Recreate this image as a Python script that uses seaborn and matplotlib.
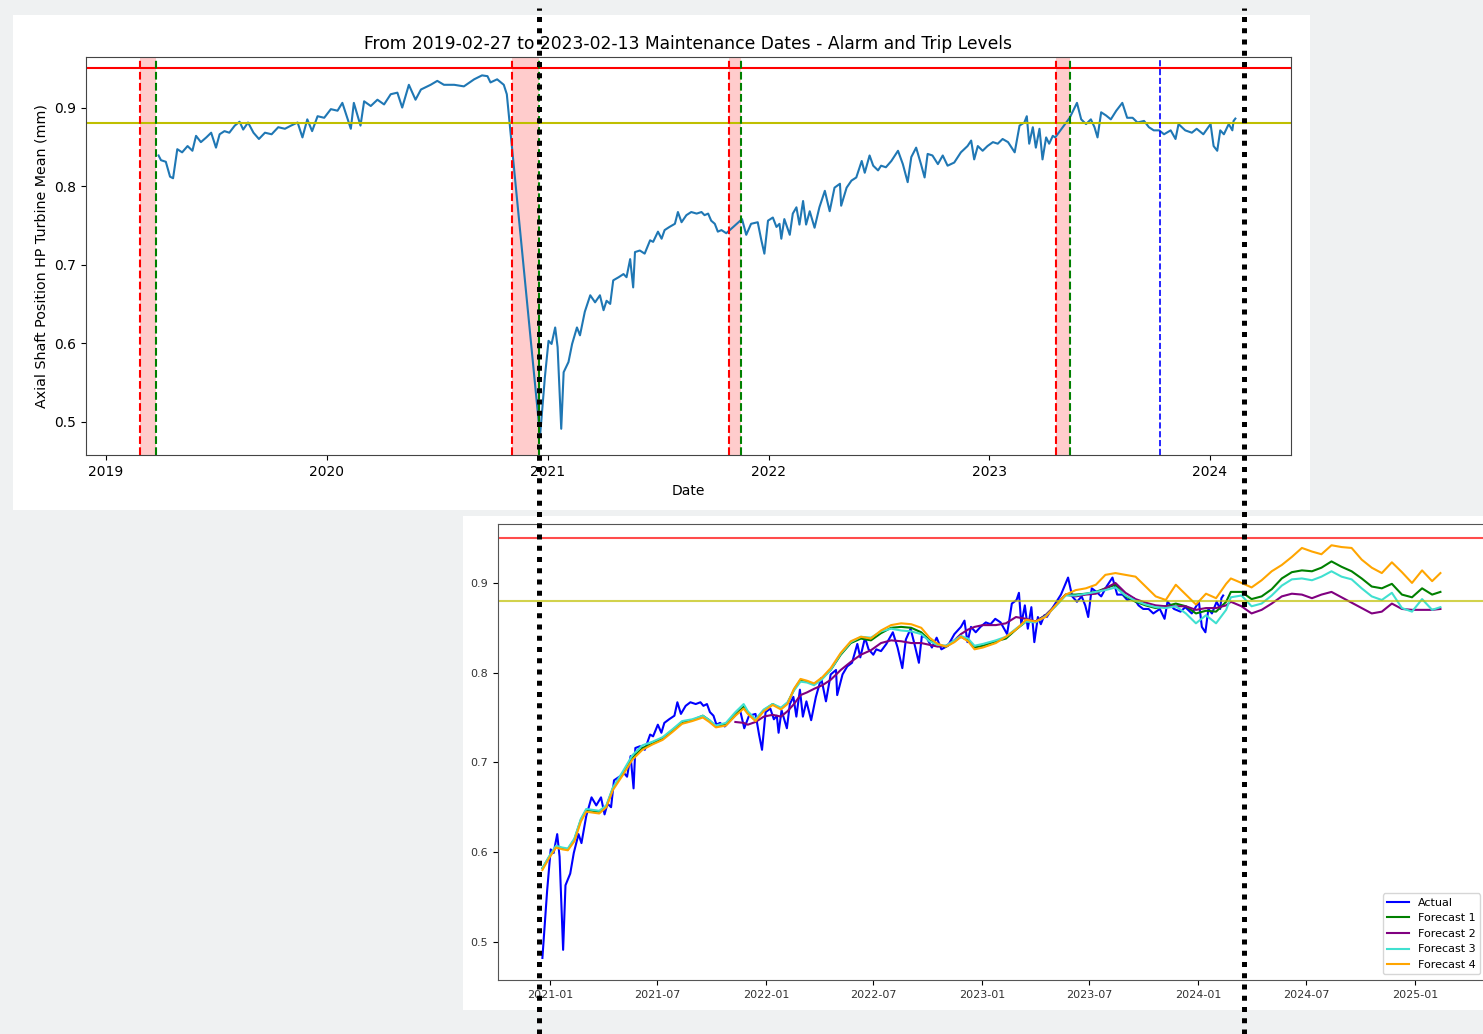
import numpy as np
import pandas as pd
import matplotlib
matplotlib.use("Agg")
import matplotlib.pyplot as plt
import matplotlib.dates as mdates
from matplotlib.lines import Line2D
from matplotlib.patches import Rectangle
import seaborn as sns

# ---------------------------------------------------------------- data
actual_dates = [
    "2019-03-29", "2019-04-02", "2019-04-10", "2019-04-17", "2019-04-22", "2019-04-29",
    "2019-05-07", "2019-05-16", "2019-05-24", "2019-05-30", "2019-06-07", "2019-06-16",
    "2019-06-24", "2019-07-02", "2019-07-08", "2019-07-16", "2019-07-24", "2019-08-02",
    "2019-08-10", "2019-08-16", "2019-08-24", "2019-09-02", "2019-09-11", "2019-09-21",
    "2019-10-02", "2019-10-13", "2019-10-24", "2019-11-03", "2019-11-14", "2019-11-22",
    "2019-11-30", "2019-12-08", "2019-12-17", "2019-12-28", "2020-01-08", "2020-01-19",
    "2020-01-27", "2020-02-10", "2020-02-15", "2020-02-26", "2020-03-03", "2020-03-14",
    "2020-03-25", "2020-04-05", "2020-04-16", "2020-04-27", "2020-05-05", "2020-05-16",
    "2020-05-27", "2020-06-05", "2020-06-21", "2020-07-02", "2020-07-13", "2020-07-30",
    "2020-08-15", "2020-09-01", "2020-09-14", "2020-09-23", "2020-09-28", "2020-10-09",
    "2020-10-20", "2020-10-25",
    "2020-12-19", "2020-12-27", "2021-01-02", "2021-01-07", "2021-01-13", "2021-01-17",
    "2021-01-23", "2021-01-27", "2021-02-04", "2021-02-10", "2021-02-18", "2021-02-23",
    "2021-03-03", "2021-03-12", "2021-03-20", "2021-03-28", "2021-04-03", "2021-04-08",
    "2021-04-14", "2021-04-19", "2021-04-28", "2021-05-06", "2021-05-11", "2021-05-17",
    "2021-05-22", "2021-05-25", "2021-06-02", "2021-06-10", "2021-06-19", "2021-06-24",
    "2021-07-02", "2021-07-08", "2021-07-13", "2021-07-21", "2021-07-30", "2021-08-04",
    "2021-08-10", "2021-08-18", "2021-08-26", "2021-09-04", "2021-09-12", "2021-09-17",
    "2021-09-23", "2021-09-28", "2021-10-04", "2021-10-09", "2021-10-15", "2021-10-23",
    "2021-11-18", "2021-11-25", "2021-12-03", "2021-12-14", "2021-12-20", "2021-12-25",
    "2021-12-31", "2022-01-08", "2022-01-14", "2022-01-19", "2022-01-22", "2022-01-27",
    "2022-02-05", "2022-02-10", "2022-02-16", "2022-02-21", "2022-02-27", "2022-03-04",
    "2022-03-10", "2022-03-18", "2022-03-26", "2022-04-04", "2022-04-12", "2022-04-20",
    "2022-04-29", "2022-05-01", "2022-05-10", "2022-05-18", "2022-05-26", "2022-06-04",
    "2022-06-09", "2022-06-17", "2022-06-23", "2022-07-01", "2022-07-06", "2022-07-14",
    "2022-07-23", "2022-08-03", "2022-08-11", "2022-08-19", "2022-08-25", "2022-09-02",
    "2022-09-10", "2022-09-16", "2022-09-21", "2022-09-29", "2022-10-08", "2022-10-16",
    "2022-10-24", "2022-11-04", "2022-11-15", "2022-11-26", "2022-12-02", "2022-12-07",
    "2022-12-13", "2022-12-21", "2022-12-29", "2023-01-07", "2023-01-15", "2023-01-23",
    "2023-02-01", "2023-02-12", "2023-02-20", "2023-02-28", "2023-03-04", "2023-03-08",
    "2023-03-14", "2023-03-19", "2023-03-25", "2023-03-30", "2023-04-05", "2023-04-10",
    "2023-04-16", "2023-04-20",
    "2023-05-14", "2023-05-26", "2023-06-02", "2023-06-10", "2023-06-18", "2023-06-24",
    "2023-06-29", "2023-07-05", "2023-07-13", "2023-07-21", "2023-07-30", "2023-08-09",
    "2023-08-17", "2023-08-26", "2023-09-03", "2023-09-14", "2023-09-22", "2023-09-30",
    "2023-10-09", "2023-10-17", "2023-10-28", "2023-11-05", "2023-11-10", "2023-11-21",
    "2023-12-02", "2023-12-10", "2023-12-21", "2024-01-02", "2024-01-07", "2024-01-13",
    "2024-01-18", "2024-01-24", "2024-02-01", "2024-02-07", "2024-02-09", "2024-02-12",
]
actual_values = [
    0.839, 0.833, 0.831, 0.812, 0.810, 0.847,
    0.843, 0.851, 0.845, 0.864, 0.856, 0.862,
    0.868, 0.849, 0.866, 0.870, 0.868, 0.877,
    0.882, 0.872, 0.881, 0.868, 0.860, 0.868,
    0.866, 0.875, 0.873, 0.877, 0.881, 0.862,
    0.885, 0.870, 0.889, 0.887, 0.898, 0.896,
    0.906, 0.873, 0.906, 0.877, 0.908, 0.902,
    0.910, 0.904, 0.917, 0.919, 0.900, 0.929,
    0.910, 0.923, 0.929, 0.934, 0.929, 0.929,
    0.927, 0.936, 0.941, 0.940, 0.932, 0.936,
    0.929, 0.917,
    0.482, 0.557, 0.603, 0.599, 0.620, 0.595,
    0.491, 0.563, 0.576, 0.599, 0.620, 0.610,
    0.640, 0.661, 0.652, 0.661, 0.642, 0.654,
    0.650, 0.680, 0.684, 0.688, 0.684, 0.707,
    0.671, 0.716, 0.718, 0.714, 0.731, 0.729,
    0.742, 0.733, 0.744, 0.748, 0.752, 0.767,
    0.754, 0.763, 0.767, 0.765, 0.767, 0.763,
    0.765, 0.756, 0.752, 0.742, 0.744, 0.740,
    0.758, 0.738, 0.752, 0.754, 0.731, 0.714,
    0.756, 0.760, 0.748, 0.752, 0.733, 0.758,
    0.738, 0.765, 0.773, 0.751, 0.781, 0.751,
    0.768, 0.747, 0.773, 0.794, 0.768, 0.798,
    0.803, 0.775, 0.798, 0.807, 0.811, 0.832,
    0.817, 0.839, 0.826, 0.820, 0.826, 0.824,
    0.832, 0.845, 0.828, 0.805, 0.837, 0.849,
    0.828, 0.811, 0.841, 0.839, 0.828, 0.839,
    0.826, 0.830, 0.843, 0.851, 0.858, 0.834,
    0.851, 0.845, 0.851, 0.856, 0.854, 0.860,
    0.856, 0.843, 0.877, 0.881, 0.889, 0.854,
    0.875, 0.849, 0.873, 0.834, 0.862, 0.854,
    0.864, 0.862,
    0.887, 0.906, 0.885, 0.879, 0.885, 0.875,
    0.862, 0.894, 0.890, 0.885, 0.896, 0.906,
    0.887, 0.887, 0.881, 0.883, 0.875, 0.871,
    0.871, 0.866, 0.871, 0.860, 0.879, 0.871,
    0.868, 0.873, 0.866, 0.879, 0.851, 0.845,
    0.871, 0.866, 0.879, 0.871, 0.883, 0.886,
]

forecast_dates = [
    "2020-12-19", "2020-12-31", "2021-01-11", "2021-01-22", "2021-01-31", "2021-02-11",
    "2021-02-22", "2021-03-03", "2021-03-14", "2021-03-25", "2021-04-06", "2021-04-17",
    "2021-05-04", "2021-05-20", "2021-06-06", "2021-06-23", "2021-07-10", "2021-07-27",
    "2021-08-12", "2021-08-29", "2021-09-16", "2021-09-27", "2021-10-08", "2021-10-25",
    "2021-11-10", "2021-11-24", "2021-12-01", "2021-12-14", "2021-12-28", "2022-01-12",
    "2022-01-26", "2022-02-06", "2022-02-17", "2022-02-28", "2022-03-11", "2022-03-23",
    "2022-04-06", "2022-04-20", "2022-05-07", "2022-05-24", "2022-06-10", "2022-06-27",
    "2022-07-14", "2022-07-31", "2022-08-17", "2022-09-03", "2022-09-20", "2022-10-04",
    "2022-10-18", "2022-11-01", "2022-11-15", "2022-11-26", "2022-12-08", "2022-12-19",
    "2023-01-02", "2023-01-24", "2023-02-10", "2023-02-27", "2023-03-16", "2023-04-01",
    "2023-04-18", "2023-05-05", "2023-05-22", "2023-06-08", "2023-06-25", "2023-07-12",
    "2023-07-28", "2023-08-14", "2023-08-31", "2023-09-17", "2023-10-04", "2023-10-21",
    "2023-11-07", "2023-11-24", "2023-12-11", "2023-12-28", "2024-01-14", "2024-01-31",
    "2024-02-17", "2024-02-25", "2024-03-14", "2024-03-31", "2024-04-17", "2024-05-04",
    "2024-05-21", "2024-06-07", "2024-06-24", "2024-07-11", "2024-07-27", "2024-08-13",
    "2024-08-30", "2024-09-16", "2024-10-03", "2024-10-20", "2024-11-06", "2024-11-23",
    "2024-12-10", "2024-12-27", "2025-01-13", "2025-01-30", "2025-02-13",
]
forecast_1 = [
    0.582, 0.595, 0.606, 0.604, 0.603, 0.614, 0.636, 0.647, 0.646, 0.645, 0.651, 0.671,
    0.688, 0.705, 0.716, 0.721, 0.727, 0.736, 0.745, 0.747, 0.752, 0.747, 0.740, 0.742,
    0.753, 0.762, 0.755, 0.747, 0.758, 0.765, 0.760, 0.766, 0.781, 0.792, 0.790, 0.787,
    0.794, 0.803, 0.820, 0.833, 0.838, 0.836, 0.844, 0.850, 0.851, 0.850, 0.845, 0.836,
    0.831, 0.829, 0.835, 0.840, 0.836, 0.828, 0.830, 0.835, 0.838, 0.848, 0.857, 0.857,
    0.864, 0.875, 0.887, 0.887, 0.888, 0.890, 0.894, 0.898, 0.885, 0.879, 0.875, 0.872,
    0.874, 0.877, 0.874, 0.866, 0.869, 0.868, 0.879, 0.890, 0.890, 0.882, 0.885, 0.893,
    0.905, 0.912, 0.914, 0.913, 0.917, 0.924, 0.918, 0.913, 0.905, 0.896, 0.894, 0.899,
    0.887, 0.884, 0.894, 0.887, 0.890,
]
forecast_2 = [
    None, None, None, None, None, None, None, None, None, None, None, None,
    None, None, None, None, None, None, None, None, None, None, None, None,
    0.745, 0.744, 0.742, 0.745, 0.751, 0.753, 0.751, 0.757, 0.765, 0.775, 0.778, 0.782,
    0.786, 0.792, 0.803, 0.812, 0.820, 0.825, 0.833, 0.836, 0.835, 0.833, 0.833, 0.831,
    0.829, 0.830, 0.836, 0.843, 0.848, 0.851, 0.853, 0.853, 0.855, 0.862, 0.860, 0.857,
    0.864, 0.875, 0.887, 0.885, 0.887, 0.888, 0.894, 0.900, 0.889, 0.882, 0.878, 0.875,
    0.874, 0.874, 0.874, 0.870, 0.872, 0.872, 0.875, 0.879, 0.874, 0.866, 0.870, 0.877,
    0.885, 0.888, 0.887, 0.883, 0.887, 0.890, 0.884, 0.878, 0.872, 0.866, 0.868, 0.877,
    0.871, 0.870, 0.870, 0.870, 0.871,
]
forecast_3 = [
    0.582, 0.596, 0.607, 0.605, 0.604, 0.615, 0.637, 0.648, 0.647, 0.646, 0.652, 0.672,
    0.690, 0.708, 0.719, 0.723, 0.728, 0.737, 0.746, 0.748, 0.752, 0.747, 0.741, 0.744,
    0.756, 0.765, 0.757, 0.748, 0.759, 0.765, 0.761, 0.767, 0.780, 0.790, 0.789, 0.786,
    0.793, 0.803, 0.821, 0.834, 0.840, 0.839, 0.846, 0.849, 0.847, 0.846, 0.843, 0.835,
    0.831, 0.830, 0.836, 0.841, 0.838, 0.830, 0.832, 0.836, 0.840, 0.849, 0.857, 0.856,
    0.863, 0.874, 0.886, 0.886, 0.888, 0.890, 0.892, 0.895, 0.886, 0.880, 0.876, 0.873,
    0.872, 0.874, 0.866, 0.855, 0.864, 0.855, 0.870, 0.884, 0.886, 0.874, 0.877, 0.886,
    0.897, 0.904, 0.905, 0.903, 0.907, 0.913, 0.907, 0.904, 0.894, 0.885, 0.881, 0.889,
    0.872, 0.868, 0.882, 0.870, 0.873,
]
forecast_4 = [
    0.580, 0.594, 0.605, 0.603, 0.602, 0.612, 0.634, 0.645, 0.644, 0.643, 0.650, 0.669,
    0.686, 0.703, 0.714, 0.720, 0.725, 0.734, 0.743, 0.746, 0.750, 0.745, 0.739, 0.741,
    0.752, 0.760, 0.754, 0.746, 0.757, 0.764, 0.759, 0.765, 0.782, 0.793, 0.791, 0.788,
    0.795, 0.805, 0.822, 0.835, 0.840, 0.838, 0.847, 0.853, 0.855, 0.854, 0.850, 0.839,
    0.832, 0.829, 0.834, 0.840, 0.835, 0.826, 0.828, 0.833, 0.840, 0.848, 0.859, 0.857,
    0.862, 0.875, 0.887, 0.892, 0.894, 0.898, 0.909, 0.911, 0.909, 0.907, 0.896, 0.885,
    0.881, 0.898, 0.887, 0.876, 0.888, 0.883, 0.899, 0.905, 0.900, 0.895, 0.903, 0.913,
    0.920, 0.929, 0.939, 0.935, 0.932, 0.942, 0.940, 0.939, 0.926, 0.917, 0.911, 0.923,
    0.912, 0.900, 0.914, 0.902, 0.911,
]

maintenance_starts = ["2019-02-27", "2020-11-02", "2021-10-27", "2023-04-21"]
maintenance_ends = ["2019-03-25", "2020-12-18", "2021-11-17", "2023-05-14"]
inspection_date = "2023-10-10"
trip_level = 0.95
alarm_level = 0.88

forecast_labels = ["Forecast 1", "Forecast 2", "Forecast 3", "Forecast 4"]
forecast_colors = ["green", "purple", "turquoise", "orange"]

actual = pd.DataFrame({"Date": pd.to_datetime(actual_dates), "value": actual_values})
forecasts = pd.DataFrame({
    "Date": pd.to_datetime(forecast_dates),
    "Forecast 1": np.array(forecast_1, dtype=float),
    "Forecast 2": np.array([np.nan if v is None else v for v in forecast_2], dtype=float),
    "Forecast 3": np.array(forecast_3, dtype=float),
    "Forecast 4": np.array(forecast_4, dtype=float),
})

# ---------------------------------------------------------------- layout
W, H = 1483, 1034
fig = plt.figure(figsize=(W / 100, H / 100), dpi=100, facecolor="#eff1f2")


def frac(x0, y0, x1, y1):
    """Pixel box (top-left origin) -> figure fraction [left, bottom, width, height]."""
    return [x0 / W, 1 - y1 / H, (x1 - x0) / W, (y1 - y0) / H]


for box in [(13, 15, 1310, 510), (463, 516, 1483, 1010)]:
    l, b, w, h = frac(*box)
    fig.add_artist(Rectangle((l, b), w, h, transform=fig.transFigure,
                             facecolor="white", edgecolor="none", zorder=-1))

# ---------------------------------------------------------------- history panel
ax1 = fig.add_axes(frac(86, 57, 1291, 455))
sns.lineplot(data=actual, x="Date", y="value", ax=ax1, color="#1f77b4", lw=1.5)
ax1.axhline(trip_level, color="r", lw=1.5)
ax1.axhline(alarm_level, color="y", lw=1.5)
for start, end in zip(maintenance_starts, maintenance_ends):
    s, e = pd.Timestamp(start), pd.Timestamp(end)
    ax1.axvspan(s, e, color="r", alpha=0.2, lw=0)
    ax1.axvline(s, color="r", ls="--", lw=1.5)
    ax1.axvline(e, color="g", ls="--", lw=1.5)
ax1.axvline(pd.Timestamp(inspection_date), color="b", ls="--", lw=1.2)

ax1.set_xlim(pd.Timestamp("2018-11-29"), pd.Timestamp("2024-05-14"))
ax1.set_ylim(0.4576, 0.9644)
ax1.xaxis.set_major_locator(mdates.YearLocator())
ax1.xaxis.set_major_formatter(mdates.DateFormatter("%Y"))
ax1.tick_params(labelsize=10)
ax1.set_title("From 2019-02-27 to 2023-02-13 Maintenance Dates - Alarm and Trip Levels",
              fontsize=12.3)
ax1.set_xlabel("Date", fontsize=10)
ax1.set_ylabel("Axial Shaft Position HP Turbine Mean (mm)", fontsize=10.3)
for sp in ax1.spines.values():
    sp.set_color("#444444")

# ---------------------------------------------------------------- forecast panel
ax2 = fig.add_axes(frac(498, 524, 1486, 980))
recent = actual[actual["Date"] >= pd.Timestamp(maintenance_ends[1])]
sns.lineplot(data=recent, x="Date", y="value", ax=ax2, color="blue", lw=1.5, label="Actual")
for name, col in zip(forecast_labels, forecast_colors):
    sns.lineplot(data=forecasts.dropna(subset=[name]), x="Date", y=name, ax=ax2,
                 color=col, lw=1.5, label=name)
ax2.axhline(trip_level, color="r", lw=1.5, alpha=0.7)
ax2.axhline(alarm_level, color="y", lw=1.5, alpha=0.7)

ax2.set_xlim(pd.Timestamp("2020-10-05"), pd.Timestamp("2025-05-01"))
ax2.set_ylim(0.4574, 0.9657)
ax2.xaxis.set_major_locator(mdates.MonthLocator(bymonth=[1, 7]))
ax2.xaxis.set_major_formatter(mdates.DateFormatter("%Y-%m"))
ax2.tick_params(labelsize=8, labelcolor="#333333")
ax2.set_xlabel("")
ax2.set_ylabel("")
for sp in ax2.spines.values():
    sp.set_color("#555555")
ax2.legend(loc="lower right", fontsize=8)

# ---------------------------------------------------------------- dotted markers
for xp in (538.5, 1244):
    fig.add_artist(Line2D([xp / W, xp / W], [0, 1 - 8 / H], transform=fig.transFigure,
                          color="black", lw=3.6, linestyle=(0, (1, 1.25)),
                          dash_capstyle="butt", zorder=10))

fig.savefig("out.png", dpi=100, facecolor=fig.get_facecolor())
